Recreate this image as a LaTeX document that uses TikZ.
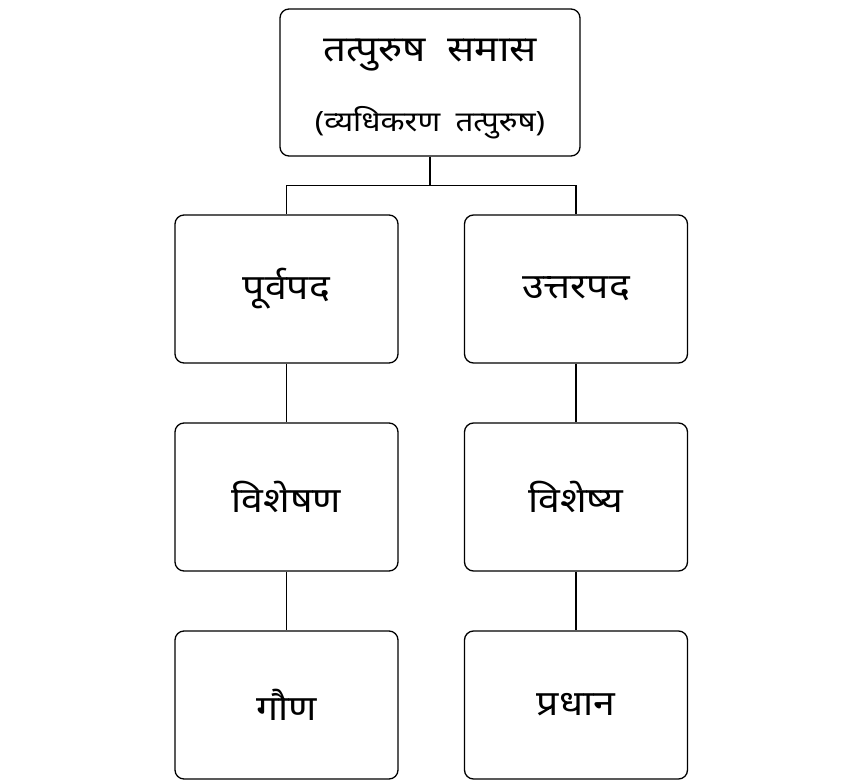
\documentclass[tikz,border=0pt]{standalone}
\usepackage{fontspec}
\setmainfont{Noto Sans}
\newfontfamily\devfont[Script=Devanagari,FakeStretch=1.12]{Noto Sans}
\usetikzlibrary{positioning}

\begin{document}
\begin{tikzpicture}[x=1pt,y=-1pt,line width=1.3pt,
  box/.style={draw,rounded corners=9pt,minimum width=223pt,minimum height=148pt,inner sep=0pt,font=\devfont\fontsize{35}{40}\selectfont},
  rootbox/.style={box,minimum width=300pt,minimum height=147pt},
  roottext/.style={inner sep=0pt,font=\devfont\fontsize{#1}{#1}\selectfont}]
\useasboundingbox (0,0) rectangle (863,781);

\node[rootbox] (root) at (430,82.5) {};
\node[roottext=36] (roottitle) at (430,55) {तत्पुरुष\hspace{0.6em}समास};
\node[roottext=28] (rootsub) at (430,123) {(व्यधिकरण\hspace{0.55em}तत्पुरुष)};

\node[box] (purva) at (286.5,289) {पूर्वपद};
\node[box] (uttar) at (576,289) {उत्तरपद};
\node[box] (visheshan) at (286.5,497) {विशेषण};
\node[box] (visheshya) at (576,497) {विशेष्य};
\node[box] (gaun) at (286.5,705) {गौण};
\node[box] (pradhan) at (576,705) {प्रधान};

\draw (root.south) -- ++(0,29) -| (purva.north);
\draw (root.south) -- ++(0,29) -| (uttar.north);
\draw (purva) -- (visheshan);
\draw (visheshan) -- (gaun);
\draw (uttar) -- (visheshya);
\draw (visheshya) -- (pradhan);
\end{tikzpicture}
\end{document}
